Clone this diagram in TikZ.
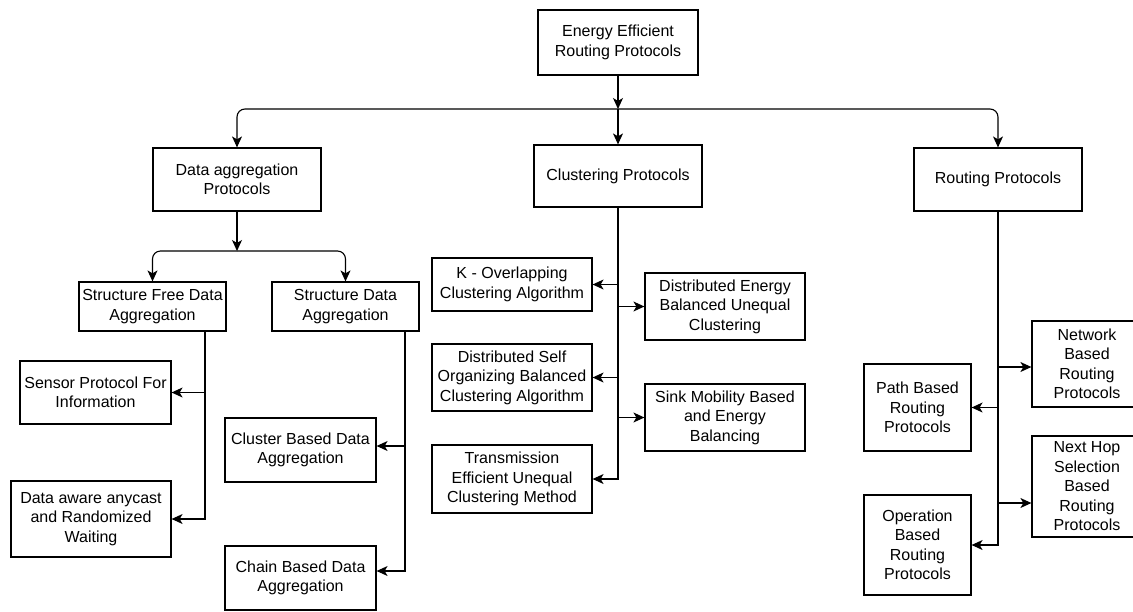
\documentclass[tikz,border=0pt]{standalone}
\usepackage{fontspec}
\setmainfont{Liberation Sans}
\usepackage{tikz}
\usetikzlibrary{arrows.meta,calc}

\begin{document}
\begin{tikzpicture}[x=1pt, y=-1pt, >={Stealth[length=11pt,width=10pt,inset=3pt]},
    box/.style={draw, line width=1.2pt, align=center, inner sep=0pt, font=\fontsize{16}{19.5}\selectfont},
    link/.style={->, line width=1.1pt},
    fork/.style={->, line width=1.1pt, rounded corners=8pt}]

    \useasboundingbox (0,0) rectangle (1133,611);

    % =========================================================================
    % ROOT AND THE THREE FAMILIES
    % =========================================================================
    \node[box, minimum width=160pt, minimum height=65pt] (eerp) at (618,42.5) {Energy Efficient\\Routing Protocols};

    \node[box, minimum width=168pt, minimum height=63pt] (dap) at (237,179.5) {Data aggregation\\Protocols};
    \node[box, minimum width=168pt, minimum height=62pt] (clu) at (618,176) {Clustering Protocols};
    \node[box, minimum width=168pt, minimum height=63pt] (rp)  at (998,179.5) {Routing Protocols};

    \coordinate (tbar) at (618,109);
    \draw[link] (eerp) -- (tbar);
    \draw[fork] (tbar) -| (dap);
    \draw[link] (tbar) -- (clu);
    \draw[fork] (tbar) -| (rp);

    % =========================================================================
    % DATA AGGREGATION BRANCH
    % =========================================================================
    \node[box, minimum width=147pt, minimum height=49pt] (sfda) at (152.5,306.5) {Structure Free Data\\Aggregation};
    \node[box, minimum width=147pt, minimum height=49pt] (sda)  at (345.5,306.5) {Structure Data\\Aggregation};

    \coordinate (dbar) at (237,251);
    \draw[link] (dap) -- (dbar);
    \draw[fork] (dbar) -| (sfda);
    \draw[fork] (dbar) -| (sda);

    \node[box, minimum width=151pt, minimum height=63pt] (spi)   at (95.5,392.5) {Sensor Protocol For\\Information};
    \node[box, minimum width=160pt, minimum height=76pt] (darw)  at (91,519) {Data aware anycast\\and Randomized\\Waiting};
    \node[box, minimum width=151pt, minimum height=64pt] (cbda)  at (300.5,450) {Cluster Based Data\\Aggregation};
    \node[box, minimum width=151pt, minimum height=64pt] (chbda) at (300.5,578) {Chain Based Data\\Aggregation};

    \draw[link] ([xshift=52.5pt]sfda.south) |- (spi.east);
    \draw[link] ([xshift=52.5pt]sfda.south) |- (darw.east);
    \draw[link] ([xshift=59.5pt]sda.south) |- ([yshift=4pt]cbda.east);
    \draw[link] ([xshift=59.5pt]sda.south) |- ([yshift=7pt]chbda.east);

    % =========================================================================
    % CLUSTERING BRANCH
    % =========================================================================
    \node[box, minimum width=160pt, minimum height=53pt] (kov)   at (512,284.5) {K - Overlapping\\Clustering Algorithm};
    \node[box, minimum width=160pt, minimum height=67pt] (debuc) at (725,306.5) {Distributed Energy\\Balanced Unequal\\Clustering};
    \node[box, minimum width=160pt, minimum height=67pt] (dsob)  at (512,377.5) {Distributed Self\\Organizing Balanced\\Clustering Algorithm};
    \node[box, minimum width=160pt, minimum height=67pt] (smeb)  at (725,417.5) {Sink Mobility Based\\and Energy\\Balancing};
    \node[box, minimum width=160pt, minimum height=68pt] (teuc)  at (512,479) {Transmission\\Efficient Unequal\\Clustering Method};

    \draw[link] (clu.south) |- (kov.east);
    \draw[link] (clu.south) |- (debuc.west);
    \draw[link] (clu.south) |- (dsob.east);
    \draw[link] (clu.south) |- (smeb.west);
    \draw[link] (clu.south) |- (teuc.east);

    % =========================================================================
    % ROUTING BRANCH
    % =========================================================================
    \node[box, minimum width=107pt, minimum height=87pt]  (pbrp) at (917.5,407.5) {Path Based\\Routing\\Protocols};
    \node[box, minimum width=110pt, minimum height=86pt]  (nbrp) at (1087,364) {Network\\Based\\Routing\\Protocols};
    \node[box, minimum width=110pt, minimum height=101pt] (nhs)  at (1087,486.5) {Next Hop\\Selection\\Based\\Routing\\Protocols};
    \node[box, minimum width=107pt, minimum height=100pt] (obrp) at (917.5,545) {Operation\\Based\\Routing\\Protocols};

    \draw[link] (rp.south) |- ([yshift=-3pt]nbrp.west);
    \draw[link] (rp.south) |- (pbrp.east);
    \draw[link] (rp.south) |- ([yshift=-16.5pt]nhs.west);
    \draw[link] (rp.south) |- (obrp.east);

\end{tikzpicture}
\end{document}
